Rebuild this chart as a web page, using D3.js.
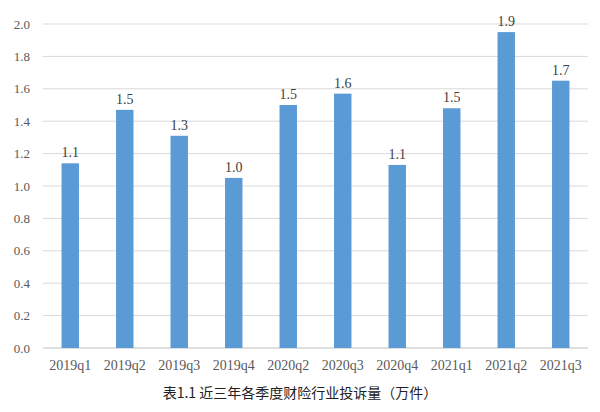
<!DOCTYPE html>
<html><head><meta charset="utf-8">
<script src="https://cdn.jsdelivr.net/npm/d3@7"></script>
<style>body{margin:0;background:#fff}</style></head>
<body><svg id="c" width="600" height="412"></svg>
<script>
const categories=["2019q1","2019q2","2019q3","2019q4","2020q2","2020q3","2020q4","2021q1","2021q2","2021q3"];
const values=[1.14,1.47,1.31,1.05,1.50,1.57,1.13,1.48,1.95,1.65];
const labels=["1.1","1.5","1.3","1.0","1.5","1.6","1.1","1.5","1.9","1.7"];
const yTicks=[0,0.2,0.4,0.6,0.8,1.0,1.2,1.4,1.6,1.8,2.0];
const title="表1.1  近三年各季度财险行业投诉量（万件）";
const svg=d3.select("#c");
const x=d3.scaleBand().domain(categories).range([43,588]).paddingInner(0.68).paddingOuter(0.34);
const y=d3.scaleLinear().domain([0,2]).range([348,24]);
const g=svg.append("g");
g.selectAll("line.g").data(yTicks).join("line").attr("x1",43).attr("x2",588)
 .attr("y1",d=>y(d)).attr("y2",d=>y(d)).attr("stroke",d=>d===0?"#bfbfbf":"#d9d9d9").attr("stroke-width",1);
g.selectAll("text.y").data(yTicks).join("text").attr("x",30).attr("y",d=>y(d)+4.5)
 .attr("text-anchor","end").attr("font-family","Liberation Serif, serif").attr("font-size",13).attr("fill","#595959").text(d=>d.toFixed(1));
g.selectAll("rect").data(values).join("rect").attr("x",(d,i)=>x(categories[i])).attr("width",x.bandwidth())
 .attr("y",d=>y(d)).attr("height",d=>y(0)-y(d)).attr("fill","#5b9bd5");
g.selectAll("text.v").data(values).join("text").attr("x",(d,i)=>x(categories[i])+x.bandwidth()/2).attr("y",d=>y(d)-6)
 .attr("text-anchor","middle").attr("font-family","Liberation Serif, serif").attr("font-size",14).attr("fill","#404040").text((d,i)=>labels[i]);
g.selectAll("text.c").data(categories).join("text").attr("x",d=>x(d)+x.bandwidth()/2).attr("y",370)
 .attr("text-anchor","middle").attr("font-family","Liberation Serif, serif").attr("font-size",14).attr("fill","#595959").text(d=>d);
svg.append("text").attr("x",300).attr("y",398).attr("text-anchor","middle").attr("font-family","Noto Sans CJK SC").attr("font-size",14).attr("fill","#222").text(title);
</script></body></html>
